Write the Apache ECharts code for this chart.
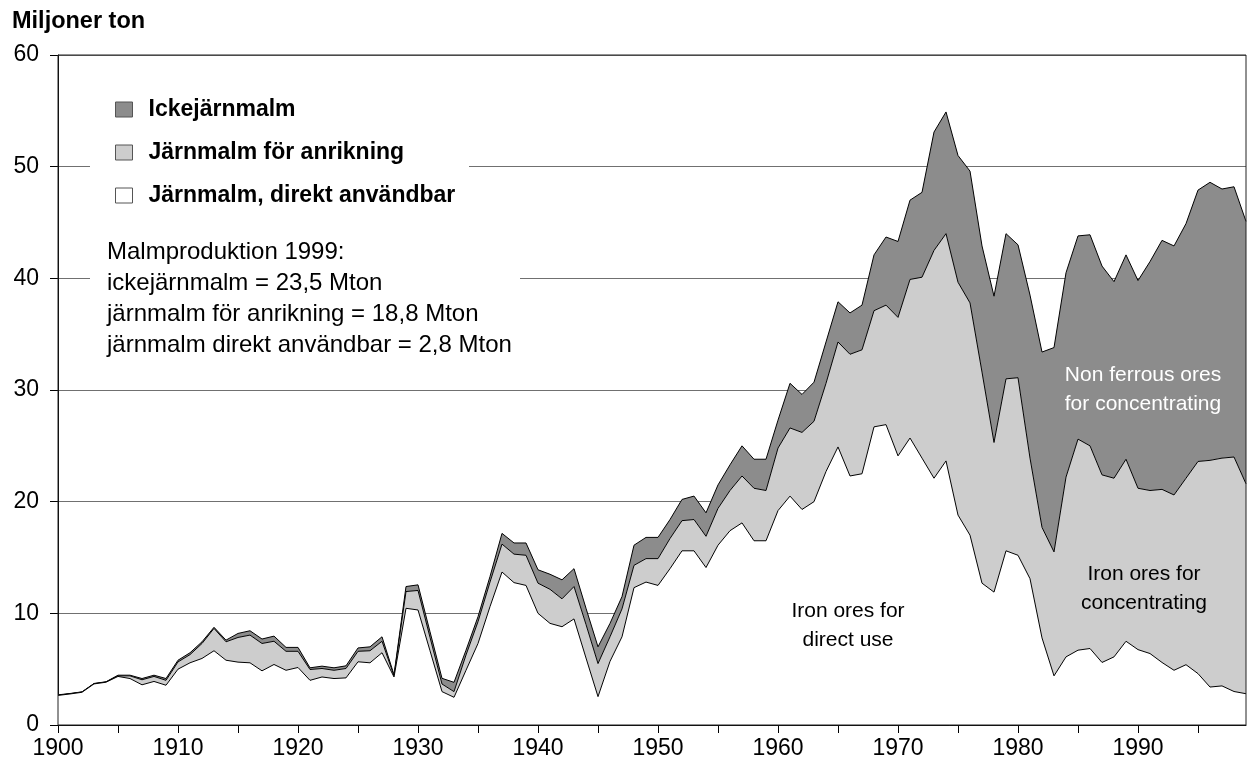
<!DOCTYPE html>
<html>
<head>
<meta charset="utf-8">
<script src="https://cdn.jsdelivr.net/npm/echarts@6/dist/echarts.min.js"></script>
<style>
html,body{margin:0;padding:0;background:#fff;}
#chart{width:1248px;height:767px;}
</style>
</head>
<body>
<div id="chart"></div>
<script>
// Years 1900..1999
const years = [];
for (let y = 1900; y <= 1999; y++) years.push(String(y));

// Järnmalm, direkt användbar (Mton)
const direct = [2.65,2.78,2.93,3.68,3.83,4.35,4.16,3.6,3.9,3.56,
  5.0,5.57,5.96,6.65,5.8,5.63,5.57,4.85,5.42,4.9,
  5.15,4.0,4.3,4.16,4.22,5.66,5.57,6.47,4.3,10.45,
  10.3,6.65,2.99,2.48,4.9,7.3,10.6,13.7,12.75,12.5,
  10.0,9.1,8.8,9.5,6.0,2.54,5.7,7.9,12.3,12.8,
  12.5,14.0,15.6,15.6,14.1,16.1,17.4,18.1,16.5,16.5,
  19.2,20.5,19.3,20.0,22.7,24.9,22.3,22.5,26.7,26.9,
  24.1,25.7,23.9,22.1,23.65,18.8,17.0,12.7,11.9,15.6,
  15.2,13.1,7.8,4.4,6.1,6.7,6.85,5.6,6.1,7.5,
  6.75,6.4,5.6,4.9,5.4,4.6,3.4,3.5,3.0,2.8];

// Järnmalm för anrikning (Mton)
const concentrating = [0.02,0.02,0.02,0.02,0.02,0.05,0.24,0.45,0.45,0.44,
  0.65,0.73,1.34,2.0,1.65,2.21,2.48,2.45,2.08,1.7,
  1.45,0.97,0.76,0.74,0.84,0.94,1.08,1.03,0.1,1.5,
  1.75,1.2,0.68,0.51,1.37,1.95,2.2,2.5,2.55,2.7,
  2.7,3.05,2.5,2.9,3.0,2.96,2.2,2.5,2.0,2.1,
  2.4,2.7,2.7,2.8,2.8,3.3,3.6,4.2,4.7,4.5,
  5.6,6.1,6.9,7.2,7.9,9.4,10.9,11.1,10.4,10.7,
  12.4,14.2,16.2,20.4,20.35,20.85,20.8,18.9,13.4,15.4,
  15.9,10.8,9.9,11.1,16.1,18.9,18.15,16.8,16.0,16.3,
  14.45,14.6,15.5,15.7,16.7,19.0,20.3,20.4,21.0,18.8];

// Ickejärnmalm (Mton)
const nonFerrous = [0.03,0.02,0.02,0.02,0.02,0.06,0.06,0.11,0.11,0.16,
  0.15,0.17,0.15,0.1,0.15,0.36,0.39,0.4,0.46,0.35,
  0.35,0.15,0.21,0.22,0.24,0.3,0.35,0.4,0.1,0.45,
  0.5,0.5,0.51,0.83,0.43,0.45,0.5,0.96,1.0,1.1,
  1.2,1.35,1.7,1.6,1.45,1.5,1.2,1.1,1.8,1.9,
  1.9,1.7,1.9,2.1,2.1,2.1,2.3,2.7,2.6,2.8,
  2.5,4.0,3.4,3.5,3.7,3.6,3.7,4.0,5.0,6.1,
  6.8,7.1,7.6,10.6,10.9,11.35,11.8,11.3,13.1,13.0,
  11.9,14.6,15.7,18.3,18.3,18.2,18.9,18.7,17.6,18.3,
  18.6,20.5,22.3,22.3,22.8,24.3,24.9,24.1,24.2,23.5];

const seriesNames = ['Järnmalm, direkt användbar', 'Järnmalm för anrikning', 'Ickejärnmalm'];
const legendOrder = ['Ickejärnmalm', 'Järnmalm för anrikning', 'Järnmalm, direkt användbar'];
const fills = {'Ickejärnmalm': '#8c8c8c', 'Järnmalm för anrikning': '#cdcdcd', 'Järnmalm, direkt användbar': '#ffffff'};

const FONT = "'Liberation Sans', Arial, Helvetica, sans-serif";

const chart = echarts.init(document.getElementById('chart'), null, {renderer: 'canvas'});

function mkSeries(name, data, z) {
  return {
    name: name, type: 'line', stack: 'total', data: data,
    symbol: 'none', z: z, animation: false,
    lineStyle: {color: '#000', width: 1},
    itemStyle: {color: fills[name]},
    areaStyle: {color: fills[name], opacity: 1}
  };
}

const option = {
  animation: false,
  backgroundColor: '#fff',
  title: {
    text: 'Miljoner ton', left: 12, top: 10, padding: 0,
    textStyle: {fontFamily: FONT, fontSize: 23.5, fontWeight: 'bold', color: '#000'}
  },
  grid: {left: 58, right: 2, top: 55, bottom: 42, show: true, z: 10,
    borderColor: '#222', borderWidth: 1, backgroundColor: 'transparent',
    containLabel: false, outerBoundsMode: 'none'},
  legend: {
    orient: 'vertical', left: 110, top: 93, itemWidth: 17, itemHeight: 15, itemGap: 20,
    selectedMode: false, icon: 'rect',
    data: legendOrder.map(n => ({name: n, itemStyle: {color: fills[n], borderColor: '#555', borderWidth: 1}})),
    textStyle: {fontFamily: FONT, fontSize: 23, fontWeight: 'bold', color: '#000', padding: [0, 0, 0, 11]}
  },
  xAxis: [{
    type: 'category', data: years, boundaryGap: false,
    axisLine: {show: true, lineStyle: {color: '#000', width: 1}},
    axisTick: {show: true, length: 8, lineStyle: {color: '#000'}, interval: (i) => i % 5 === 0},
    axisLabel: {interval: (i) => i % 10 === 0, fontFamily: FONT, fontSize: 23, color: '#000', margin: 12},
    splitLine: {show: false}
  }, {
    type: 'category', data: years, boundaryGap: false, position: 'bottom',
    axisLine: {show: false},
    axisTick: {show: true, inside: true, length: 8, lineStyle: {color: '#000'}, interval: (i) => i % 5 === 0},
    axisLabel: {show: false},
    splitLine: {show: false}
  }],
  yAxis: {
    type: 'value', min: 0, max: 60, interval: 10,
    axisLine: {show: true, lineStyle: {color: '#000', width: 1}},
    axisTick: {show: true, length: 8, lineStyle: {color: '#000'}},
    axisLabel: {fontFamily: FONT, fontSize: 23, color: '#000', margin: 19},
    splitLine: {show: true, lineStyle: {color: '#707070', width: 1}}
  },
  series: [
    mkSeries(seriesNames[0], direct, 5),
    mkSeries(seriesNames[1], concentrating, 4),
    mkSeries(seriesNames[2], nonFerrous, 3)
  ],
  graphic: [
    {type: 'rect', z: 1, silent: true, shape: {x: 90, y: 78, width: 379, height: 140}, style: {fill: '#fff'}},
    {type: 'rect', z: 1, silent: true, shape: {x: 90, y: 225, width: 430, height: 140}, style: {fill: '#fff'}},
    {type: 'text', z: 20, silent: true, style: {
      text: 'Malmproduktion 1999:\nickejärnmalm = 23,5 Mton\njärnmalm för anrikning = 18,8 Mton\njärnmalm direkt användbar = 2,8 Mton',
      x: 107, y: 298.5, verticalAlign: 'middle', align: 'left', lineHeight: 31,
      font: '24px ' + FONT, fill: '#000'}},
    {type: 'text', z: 20, silent: true, style: {
      text: 'Iron ores for\ndirect use', x: 848, y: 626, align: 'center', verticalAlign: 'middle',
      lineHeight: 29, font: '21px ' + FONT, fill: '#000'}},
    {type: 'text', z: 20, silent: true, style: {
      text: 'Non ferrous ores\nfor concentrating', x: 1143, y: 389.5, align: 'center', verticalAlign: 'middle',
      lineHeight: 29, font: '21px ' + FONT, fill: '#fff'}},
    {type: 'text', z: 20, silent: true, style: {
      text: 'Iron ores for\nconcentrating', x: 1144, y: 589, align: 'center', verticalAlign: 'middle',
      lineHeight: 29, font: '21px ' + FONT, fill: '#000'}}
  ]
};
chart.setOption(option);
</script>
</body>
</html>
